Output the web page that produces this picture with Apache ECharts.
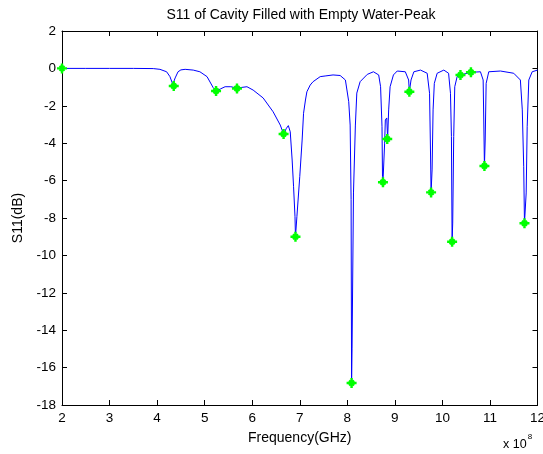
<!DOCTYPE html>
<html>
<head>
<meta charset="utf-8">
<script src="https://cdn.jsdelivr.net/npm/echarts@6/dist/echarts.min.js"></script>
<style>
html,body{margin:0;padding:0;background:#fff;}
#chart{width:543px;height:454px;}
</style>
</head>
<body>
<div id="chart"></div>
<script>
// Frequency in units of 1e8 (GHz axis label as in reference), S11 in dB
var curveFreq = [2.0, 2.5, 3.0, 3.5, 3.92, 4.06, 4.2, 4.27, 4.33, 4.35, 4.38, 4.44, 4.5, 4.59, 4.76, 4.9, 5.05, 5.18, 5.24, 5.33, 5.43, 5.55, 5.68, 5.89, 6.02, 6.23, 6.44, 6.59, 6.66, 6.72, 6.76, 6.8, 6.84, 6.87, 6.9, 6.91, 6.94, 7.0, 7.05, 7.08, 7.12, 7.15, 7.22, 7.28, 7.43, 7.55, 7.7, 7.85, 7.96, 8.03, 8.06, 8.08, 8.09, 8.1, 8.13, 8.17, 8.2, 8.27, 8.42, 8.55, 8.66, 8.7, 8.73, 8.74, 8.75, 8.785, 8.8, 8.83, 8.848, 8.87, 8.9, 8.97, 9.05, 9.22, 9.29, 9.305, 9.34, 9.4, 9.54, 9.68, 9.73, 9.747, 9.762, 9.783, 9.804, 9.83, 9.89, 10.03, 10.13, 10.17, 10.19, 10.204, 10.217, 10.238, 10.26, 10.31, 10.38, 10.6, 10.8, 10.857, 10.87, 10.884, 10.9, 10.92, 10.975, 11.22, 11.5, 11.64, 11.68, 11.71, 11.726, 11.762, 11.783, 11.817, 11.888, 12.0];
var curveS11 = [0.0, 0.0, 0.0, 0.0, -0.01, -0.05, -0.18, -0.44, -0.85, -0.94, -0.51, -0.18, -0.08, -0.05, -0.09, -0.18, -0.44, -1.03, -1.21, -1.1, -0.98, -0.98, -1.05, -0.98, -1.16, -1.58, -2.32, -3.03, -3.51, -3.2, -3.06, -3.39, -4.9, -6.33, -7.93, -9.0, -7.93, -5.79, -3.83, -2.4, -1.69, -1.25, -0.89, -0.71, -0.44, -0.4, -0.35, -0.38, -0.62, -1.78, -3.03, -7.0, -16.82, -15.0, -6.66, -3.03, -1.32, -0.71, -0.32, -0.18, -0.35, -0.98, -3.12, -5.79, -6.09, -4.0, -2.76, -2.65, -3.78, -2.22, -0.98, -0.35, -0.14, -0.18, -0.62, -1.25, -0.62, -0.18, -0.09, -0.26, -1.33, -3.99, -6.63, -5.43, -2.22, -0.8, -0.26, -0.09, -0.26, -1.33, -3.65, -9.27, -8.27, -3.65, -0.98, -0.44, -0.35, -0.21, -0.18, -0.62, -2.76, -5.22, -3.83, -0.8, -0.18, -0.14, -0.26, -0.62, -2.22, -5.26, -8.28, -6.66, -3.12, -0.62, -0.18, -0.09];

var peakFreq = [2.0, 4.35, 5.24, 5.68, 6.66, 6.91, 8.09, 8.75, 8.84, 9.305, 9.762, 10.204, 10.38, 10.6, 10.884, 11.726];
var peakS11 = [0.0, -0.94, -1.21, -1.07, -3.51, -9.0, -16.82, -6.09, -3.78, -1.25, -6.63, -9.27, -0.35, -0.21, -5.22, -8.28];

var xTicks = [2, 3, 4, 5, 6, 7, 8, 9, 10, 11, 12];
var yTicks = [2, 0, -2, -4, -6, -8, -10, -12, -14, -16, -18];

var curveData = curveFreq.map(function (f, i) { return [f, curveS11[i]]; });
var peakData = peakFreq.map(function (f, i) { return [f, peakS11[i]]; });

var FONT = 'Liberation Sans, Arial, sans-serif';
var starPath = 'path://M-1.1,-4.5 L1.1,-4.5 L1.1,4.5 L-1.1,4.5 Z M-4.5,-1.1 L4.5,-1.1 L4.5,1.1 L-4.5,1.1 Z M-1.62,-2.9 L2.9,1.62 L1.62,2.9 L-2.9,-1.62 Z M1.62,-2.9 L2.9,-1.62 L-1.62,2.9 L-2.9,1.62 Z';

var chart = echarts.init(document.getElementById('chart'), null, {renderer: 'canvas'});
var axisLineStyle = {color: '#000', width: 1};
var tickStyle = {show: true, inside: true, length: 5, lineStyle: {color: '#000'}};
chart.setOption({
  animation: false,
  backgroundColor: '#fff',
  title: {
    text: 'S11 of Cavity Filled with Empty Water-Peak',
    left: 296, top: 3, textAlign: 'center',
    textStyle: {fontFamily: FONT, fontSize: 14, fontWeight: 'normal', color: '#000'}
  },
  grid: {left: 62, right: 5.5, top: 31, bottom: 49, containLabel: false, outerBoundsMode: 'none'},
  xAxis: [{
    type: 'value', min: xTicks[0], max: xTicks[xTicks.length - 1], interval: 1,
    position: 'bottom',
    name: 'Frequency(GHz)', nameLocation: 'middle', nameGap: 26,
    nameTextStyle: {fontFamily: FONT, fontSize: 14, color: '#000'},
    axisLine: {show: true, onZero: false, lineStyle: axisLineStyle},
    axisTick: tickStyle,
    axisLabel: {fontFamily: FONT, fontSize: 13.5, color: '#000', margin: 6},
    splitLine: {show: false}
  }, {
    type: 'value', min: xTicks[0], max: xTicks[xTicks.length - 1], interval: 1,
    position: 'top',
    axisLine: {show: true, onZero: false, lineStyle: axisLineStyle},
    axisTick: tickStyle,
    axisLabel: {show: false},
    splitLine: {show: false}
  }],
  yAxis: [{
    type: 'value', min: yTicks[yTicks.length - 1], max: yTicks[0], interval: 2,
    position: 'left',
    name: 'S11(dB)', nameLocation: 'middle', nameGap: 36, nameRotate: 90,
    nameTextStyle: {fontFamily: FONT, fontSize: 14, color: '#000'},
    axisLine: {show: true, onZero: false, lineStyle: axisLineStyle},
    axisTick: tickStyle,
    axisLabel: {fontFamily: FONT, fontSize: 13.5, color: '#000', margin: 6},
    splitLine: {show: false}
  }, {
    type: 'value', min: yTicks[yTicks.length - 1], max: yTicks[0], interval: 2,
    position: 'right',
    axisLine: {show: true, onZero: false, lineStyle: axisLineStyle},
    axisTick: tickStyle,
    axisLabel: {show: false},
    splitLine: {show: false}
  }],
  graphic: [{
    type: 'text', left: 503, top: 433,
    style: {
      text: '{a|x 10}{b|8}',
      rich: {
        a: {fontFamily: FONT, fontSize: 12.5, color: '#000', verticalAlign: 'bottom', lineHeight: 18},
        b: {fontFamily: FONT, fontSize: 8, color: '#000', verticalAlign: 'top', lineHeight: 18, padding: [0, 0, 8, 1]}
      }
    }
  }],
  series: [{
    type: 'line', data: curveData, xAxisIndex: 0, yAxisIndex: 0,
    showSymbol: false, smooth: false, clip: true,
    lineStyle: {color: '#0000ff', width: 1},
    z: 2
  }, {
    type: 'scatter', data: peakData, xAxisIndex: 0, yAxisIndex: 0,
    symbol: starPath, symbolSize: 10,
    itemStyle: {color: '#00ff00', opacity: 1},
    z: 3
  }]
});
</script>
</body>
</html>
